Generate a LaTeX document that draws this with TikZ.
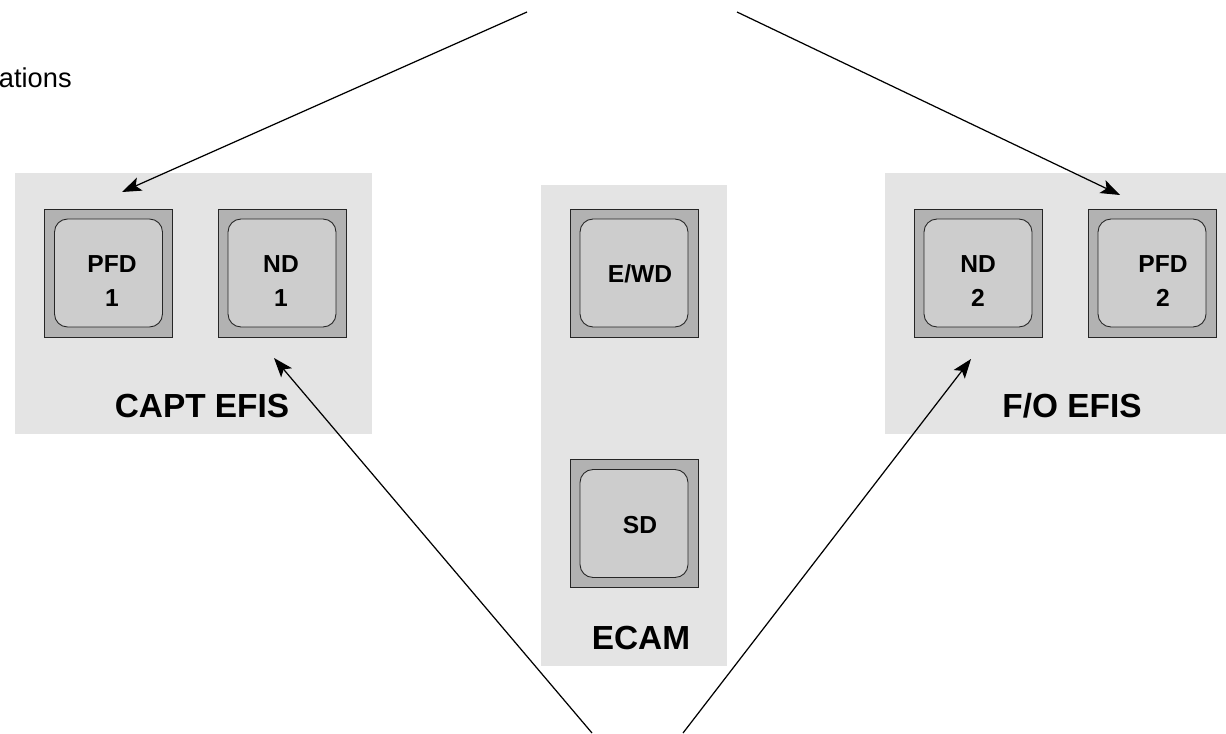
\documentclass[tikz,border=0pt]{standalone}
\usepackage{fontspec}
\setmainfont{Liberation Sans}
\usetikzlibrary{arrows.meta}

\definecolor{panelgray}{RGB}{228,228,228}
\definecolor{framegray}{RGB}{178,178,178}
\definecolor{facegray}{RGB}{205,205,205}

\tikzset{
    panel/.style={fill=panelgray, draw=none, inner sep=0pt},
    screen/.style={fill=framegray, draw=black!85, line width=0.5pt, minimum size=2.56cm, inner sep=0pt},
    face/.style={fill=facegray, draw=black!85, line width=0.5pt, rounded corners=0.26cm, minimum size=2.16cm, inner sep=0pt},
    scrtext/.style={font=\bfseries\fontsize{14}{19.5}\selectfont, align=center, inner sep=0pt},
    paneltext/.style={font=\bfseries\fontsize{19}{23}\selectfont, inner sep=0pt},
    link/.style={line width=0.7pt, -{Stealth[length=11pt, width=8pt, inset=2.5pt]}}
}

\begin{document}
\begin{tikzpicture}[x=0.02cm, y=-0.02cm]
    \useasboundingbox (0,0) rectangle (1226,733);

    % 1. Panels (grey backgrounds)
    \node[panel, minimum width=7.14cm, minimum height=5.22cm] (capt) at (193.5,303.5) {};
    \node[panel, minimum width=3.72cm, minimum height=9.62cm] (ecam) at (634,425.5) {};
    \node[panel, minimum width=7.14cm, minimum height=5.22cm] (fo) at (1063.5,303.5) {};

    % 2. Display units: frame + rounded face
    \node[screen] (pfdA) at (108.5,273) {};
    \node[face] (pfdAface) at (pfdA) {};
    \node[screen] (ndA) at (282,273) {};
    \node[face] (ndAface) at (ndA) {};
    \node[screen] (ewd) at (634,273) {};
    \node[face] (ewdface) at (ewd) {};
    \node[screen] (sd) at (634,523.5) {};
    \node[face] (sdface) at (sd) {};
    \node[screen] (ndB) at (978,273) {};
    \node[face] (ndBface) at (ndB) {};
    \node[screen] (pfdB) at (1152,273) {};
    \node[face] (pfdBface) at (pfdB) {};

    % 3. Labels
    \node[scrtext] (pfdAtxt) at (112,281) {PFD\\1};
    \node[scrtext] (ndAtxt) at (281,281) {ND\\1};
    \node[scrtext, anchor=base] (ewdtxt) at (640,282) {E/WD};
    \node[scrtext, anchor=base] (sdtxt) at (640,533) {SD};
    \node[scrtext] (ndBtxt) at (978,281) {ND\\2};
    \node[scrtext] (pfdBtxt) at (1163,281) {PFD\\2};

    \node[paneltext, anchor=base] (capttxt) at (202,417) {CAPT EFIS};
    \node[paneltext, anchor=base] (ecamtxt) at (641,649) {ECAM};
    \node[paneltext, anchor=base] (fotxt) at (1072,417) {F/O EFIS};

    \node[font=\fontsize{15.5}{18}\selectfont, anchor=base east, inner sep=0pt] (cut) at (72,88) {ations};

    % 4. Arrow ends
    \coordinate (topL) at (527,12);
    \coordinate (topR) at (737,12);
    \coordinate (botL) at (592,733);
    \coordinate (botR) at (683,733);
    \coordinate (pfdAtip) at (122,192);
    \coordinate (pfdBtip) at (1120,195);
    \coordinate (ndAtip) at (274,358);
    \coordinate (ndBtip) at (971,359);

    % 5. Arrows
    \draw[link] (topL) -- (pfdAtip);
    \draw[link] (topR) -- (pfdBtip);
    \draw[link] (botL) -- (ndAtip);
    \draw[link] (botR) -- (ndBtip);

\end{tikzpicture}
\end{document}
